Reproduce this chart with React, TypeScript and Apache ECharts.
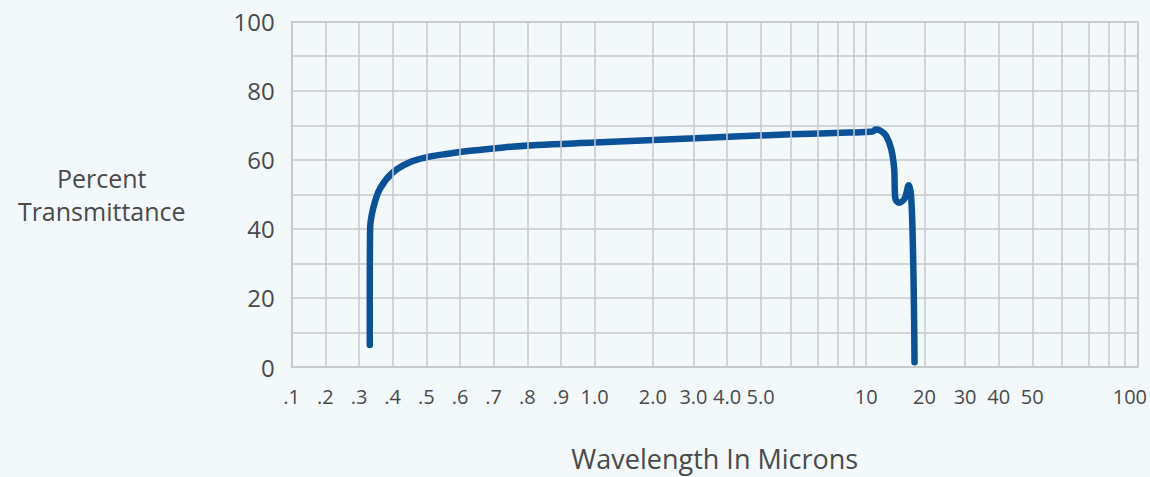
import React, { useEffect, useRef } from "react";
import * as echarts from "echarts";

// ---- Axis scale definition (gridline wavelengths, µm) ----
const gridWavelengths = [
  0.1, 0.2, 0.3, 0.4, 0.5, 0.6, 0.7, 0.8, 0.9, 1.0,
  2, 3, 4, 5, 6, 7, 8, 9, 10,
  20, 30, 40, 50, 60, 70, 80, 90, 100,
];
// spacing of the chart's own (non-standard) scale
const linearStep = 33.7; // per 0.1 µm between 0.1 and 1.0
const decadeFractions = [0, 58.3, 99, 132.7, 166.3, 196.3, 223, 243.3, 259.3, 272];

// ---- Tick labels ----
const xTickWavelengths = [0.1, 0.2, 0.3, 0.4, 0.5, 0.6, 0.7, 0.8, 0.9, 1.0, 2, 3, 4, 5, 10, 20, 30, 40, 50, 100];
const xTickLabels = [".1", ".2", ".3", ".4", ".5", ".6", ".7", ".8", ".9", "1.0", "2.0", "3.0", "4.0", "5.0", "10", "20", "30", "40", "50", "100"];

// ---- Series data ----
const wavelengths = [
  0.332, 0.332, 0.333, 0.342, 0.362, 0.401, 0.451, 0.5, 0.56, 0.63, 0.73, 0.83, 1.0,
  2.9, 6.0, 8.7, 11.1, 11.6, 12.4, 13.4, 14.3, 14.8, 15.0, 15.6, 16.6, 17.3, 17.7, 18.0, 18.2, 18.3,
];
const transmittance = [
  6.4, 20, 40, 45.9, 51.6, 56.4, 59.3, 60.7, 61.7, 62.6, 63.6, 64.3, 65.0,
  66.2, 67.4, 67.9, 68.2, 68.8, 68.5, 67.0, 63.1, 57.4, 48.8, 47.6, 48.8, 52.6, 49.7, 36.3, 17.2, 1.4,
];

function buildGridPositions(): number[] {
  const pos: number[] = [];
  for (let i = 0; i < 10; i++) pos.push(i * linearStep);
  const startDecade1 = pos[9];
  for (let k = 1; k < 10; k++) pos.push(startDecade1 + decadeFractions[k]);
  const startDecade2 = startDecade1 + decadeFractions[9];
  for (let k = 1; k < 10; k++) pos.push(startDecade2 + decadeFractions[k]);
  return pos;
}
const gridPositions = buildGridPositions();

function toAxis(w: number): number {
  for (let i = 0; i < gridWavelengths.length - 1; i++) {
    const a = gridWavelengths[i];
    const b = gridWavelengths[i + 1];
    if (w >= a && w <= b) {
      return gridPositions[i] + ((w - a) / (b - a)) * (gridPositions[i + 1] - gridPositions[i]);
    }
  }
  return w < gridWavelengths[0] ? gridPositions[0] : gridPositions[gridPositions.length - 1];
}

const FONT = "Open Sans";
const TEXT = "#4a4a4a";
const GRID = "#c9c9c9";

export default function App() {
  const ref = useRef<HTMLDivElement>(null);
  useEffect(() => {
    if (!ref.current) return;
    const chart = echarts.init(ref.current, null, { renderer: "svg" });
    const tickPositions = xTickWavelengths.map(toAxis);
    const axisMax = gridPositions[gridPositions.length - 1];
    const labelFor = (v: number) => {
      let best = 0;
      for (let i = 1; i < tickPositions.length; i++) {
        if (Math.abs(tickPositions[i] - v) < Math.abs(tickPositions[best] - v)) best = i;
      }
      return best;
    };
    chart.setOption({
      animation: false,
      backgroundColor: "#f3f8fb",
      grid: {
        left: 291.7,
        right: 11.7,
        top: 21.7,
        bottom: 107.3,
        show: true,
        borderColor: GRID,
        borderWidth: 1.5,
        backgroundColor: "transparent",
      },
      xAxis: {
        type: "value",
        min: 0,
        max: axisMax,
        name: "Wavelength In Microns",
        nameLocation: "middle",
        nameGap: 78,
        nameTextStyle: { fontFamily: FONT, fontSize: 27, color: TEXT },
        axisLine: { show: true, lineStyle: { color: GRID, width: 1.5 } },
        axisTick: { show: false },
        splitLine: { show: false },
        axisLabel: {
          customValues: tickPositions,
          margin: 19,
          fontFamily: FONT,
          fontSize: 20,
          color: TEXT,
          showMinLabel: true,
          showMaxLabel: true,
          hideOverlap: false,
          formatter: (v: number) => {
            const i = labelFor(v);
            if (i === tickPositions.length - 1) return "{last|" + xTickLabels[i] + "}";
            return xTickLabels[i];
          },
          rich: {
            last: { fontFamily: FONT, fontSize: 20, color: TEXT, padding: [0, 16, 0, 0] },
          },
        },
      },
      yAxis: {
        type: "value",
        min: 0,
        max: 100,
        interval: 10,
        name: "Percent\nTransmittance",
        nameLocation: "middle",
        nameRotate: 0,
        nameGap: 190,
        nameTextStyle: { fontFamily: FONT, fontSize: 25, color: TEXT, align: "center", lineHeight: 33 },
        axisLine: { show: true, lineStyle: { color: GRID, width: 1.5 } },
        axisTick: { show: false },
        splitLine: { show: true, lineStyle: { color: GRID, width: 1.5 } },
        axisLabel: {
          margin: 17,
          fontFamily: FONT,
          fontSize: 24,
          color: TEXT,
          formatter: (v: number) => (v % 20 === 0 ? String(v) : ""),
        },
      },
      series: [
        {
          type: "line",
          data: [],
          z: 1,
          silent: true,
          markLine: {
            silent: true,
            symbol: "none",
            animation: false,
            label: { show: false },
            lineStyle: { color: GRID, width: 1.5, type: "solid" },
            emphasis: { disabled: true },
            data: gridPositions.map((p) => ({ xAxis: p })),
          },
        },
        {
          type: "line",
          z: 3,
          data: wavelengths.map((w, i) => [toAxis(w), transmittance[i]]),
          showSymbol: false,
          symbol: "none",
          smooth: 0.35,
          lineStyle: { color: "#0b5197", width: 6.5, cap: "round", join: "round" },
        },
      ],
    });
    return () => chart.dispose();
  }, []);
  return (
    <div
      ref={ref}
      style={{ position: "fixed", left: 0, top: 0, width: 1150, height: 477 }}
    />
  );
}
